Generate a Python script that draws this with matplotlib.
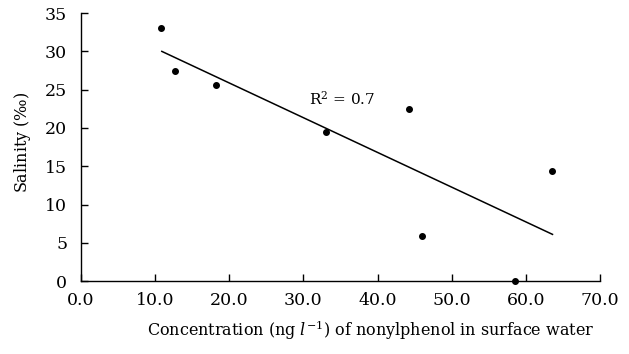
import matplotlib
matplotlib.use("Agg")
import matplotlib.pyplot as plt

conc = [10.8, 12.7, 18.2, 33.0, 44.3, 46.0, 58.5, 63.5]
salinity = [33.1, 27.5, 25.6, 19.5, 22.5, 5.9, 0.0, 14.4]
trend_x = [10.9, 63.6]
trend_y = [30.0, 6.1]
xticks = [0, 10, 20, 30, 40, 50, 60, 70]
yticks = [0, 5, 10, 15, 20, 25, 30, 35]

plt.rcParams['font.family'] = ['DejaVu Serif']
plt.rcParams['mathtext.fontset'] = 'dejavuserif'

fig = plt.figure(figsize=(6.29, 3.54), dpi=100)
ax = fig.add_axes([0.1288, 0.206, 0.825, 0.757])
ax.plot(trend_x, trend_y, color='black', lw=1.1)
ax.plot(conc, salinity, 'o', color='black', ms=4, clip_on=False, zorder=3)
ax.set_xlim(0, 70)
ax.set_ylim(0, 35)
ax.set_xticks(xticks)
ax.set_xticklabels([f"{v:.1f}" for v in xticks])
ax.set_yticks(yticks)
for s in ['top', 'right']:
    ax.spines[s].set_visible(False)
for s in ['left', 'bottom']:
    ax.spines[s].set_linewidth(1.0)
ax.tick_params(direction='in', length=5, width=1, labelsize=12.5)
ax.tick_params(axis='y', pad=10)
ax.tick_params(axis='x', pad=8)
ax.text(30.8, 23.8, r'R$^2$ = 0.7', fontsize=11, va='center', ha='left')
ax.set_xlabel(r'Concentration (ng $l^{-1}$) of nonylphenol in surface water', fontsize=11.5)
ax.set_ylabel(r'Salinity ($\it{‰}$)', fontsize=11.5)
ax.xaxis.set_label_coords(0.559, -0.14)
ax.yaxis.set_label_coords(-0.093, 0.519)
fig.savefig('out.png', dpi=100)
